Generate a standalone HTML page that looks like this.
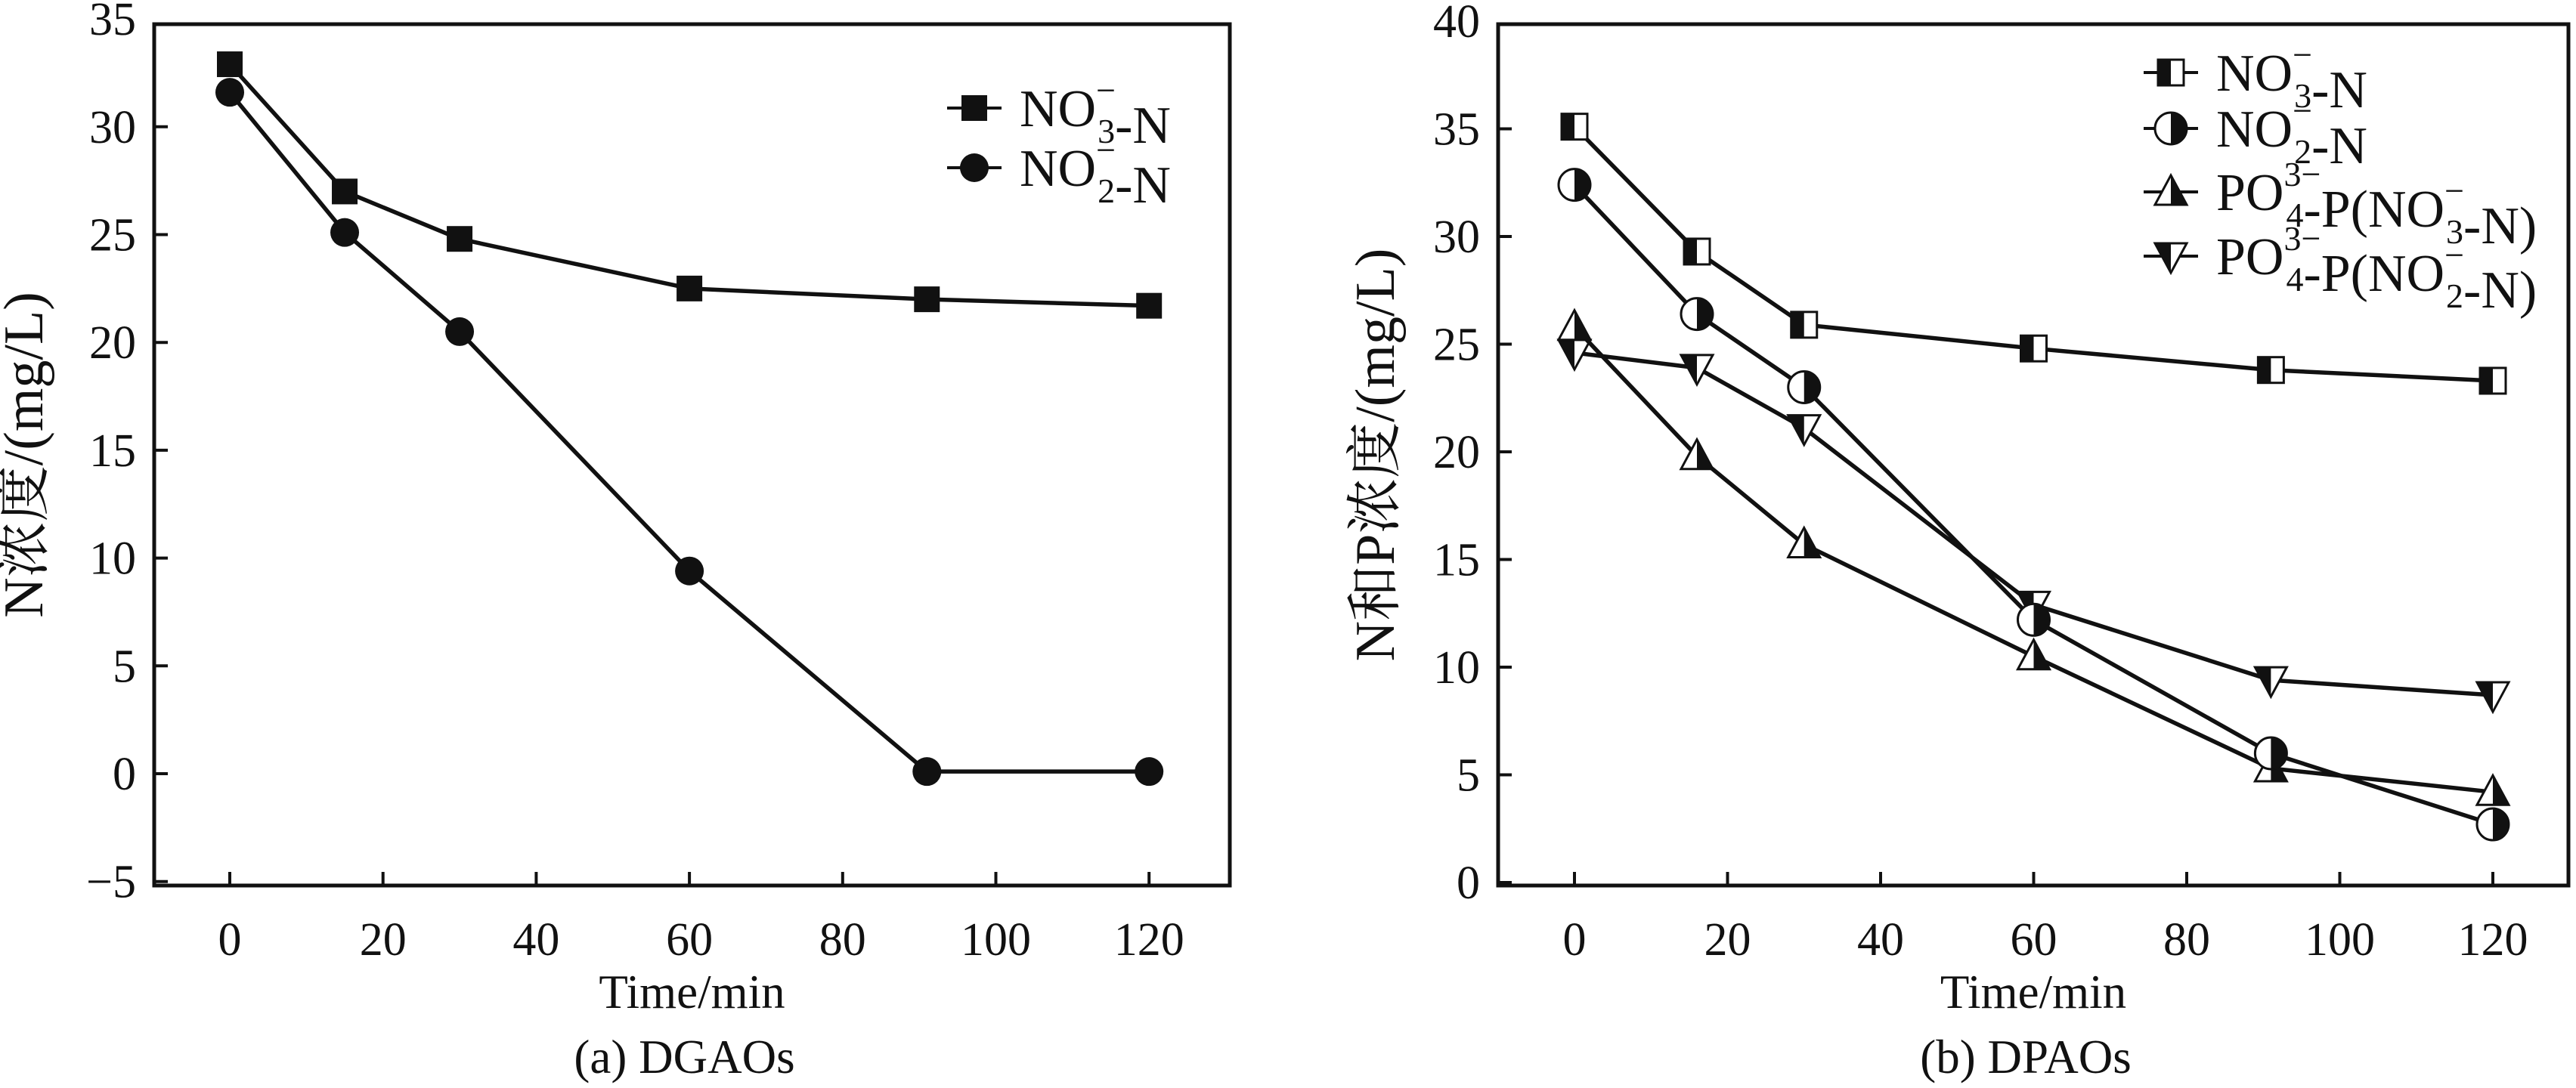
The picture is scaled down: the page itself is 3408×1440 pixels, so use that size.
<!DOCTYPE html>
<html><head><meta charset="utf-8"><style>
html,body{margin:0;padding:0;background:#fff}
svg{display:block}
text{font-family:"Liberation Serif","Noto Serif CJK SC","Noto Sans CJK SC",serif;fill:#111}
</style></head><body>
<svg id="fig" width="3408" height="1440" viewBox="0 0 3408 1440" xmlns="http://www.w3.org/2000/svg"></svg>
<script>
// ---- data ----
const timesA = [0, 15, 30, 60, 91, 120];
const no3A = [32.9, 27.0, 24.8, 22.5, 22.0, 21.7];
const no2A = [31.6, 25.1, 20.5, 9.4, 0.1, 0.1];
const timesB = [0, 16, 30, 60, 91, 120];
const no3B = [35.1, 29.3, 25.9, 24.8, 23.8, 23.3];
const no2B = [32.4, 26.4, 23.0, 12.2, 6.0, 2.7];
const po4no3B = [25.8, 19.8, 15.7, 10.5, 5.3, 4.2];
const po4no2B = [24.6, 23.9, 21.1, 12.9, 9.4, 8.7];
const xTicks = [0, 20, 40, 60, 80, 100, 120];
const yTicksA = [-5, 0, 5, 10, 15, 20, 25, 30, 35];
const yTicksB = [0, 5, 10, 15, 20, 25, 30, 35, 40];

const NS = "http://www.w3.org/2000/svg";
const svg = document.getElementById('fig');
function mk(tag, attrs, parent){
  const e = document.createElementNS(NS, tag);
  for (const k in attrs) e.setAttribute(k, attrs[k]);
  (parent || svg).appendChild(e);
  return e;
}

function panel(cfg){
  const g = mk('g', {});
  
  
  const xs = v => cfg.x0 + v * cfg.xk;
  const ys = v => cfg.y0 - v * cfg.yk;
  const fr = mk('rect', {x: cfg.L, y: cfg.T, width: cfg.R - cfg.L, height: cfg.B - cfg.T, fill: 'none', stroke: '#111', 'stroke-width': 5}, g);
  
  
  xTicks.forEach(t => {
    const x = xs(t);
    const tk = mk('line', {x1: x, x2: x, y1: cfg.B, y2: cfg.B - 18, stroke: '#111', 'stroke-width': 4}, g);
    
    
    const lb = mk('text', {x: x, y: cfg.B + 92, 'font-size': 62, 'text-anchor': 'middle'}, g);
    lb.textContent = t;
    
    
  });
  cfg.yTicks.forEach(t => {
    const y = ys(t);
    if (y > cfg.T + 3 && y < cfg.B - 3) {
      const tk = mk('line', {x1: cfg.L, x2: cfg.L + 18, y1: y, y2: y, stroke: '#111', 'stroke-width': 4}, g);
      
      
    }
    const lb = mk('text', {x: cfg.L - 24, y: y + 21, 'font-size': 62, 'text-anchor': 'end'}, g);
    lb.textContent = t < 0 ? '\u2212' + (-t) : t;
    
    
  });
  const xt = mk('text', {x: (cfg.L + cfg.R) / 2, y: 1334, 'font-size': 63, 'text-anchor': 'middle'}, g);
  xt.textContent = 'Time/min';
  
  
  const cap = mk('text', {x: (cfg.L + cfg.R) / 2 - 10, y: 1420, 'font-size': 63, 'text-anchor': 'middle', 'xml:space': 'preserve'}, g);
  cap.textContent = cfg.caption;
  
  
  const yt = mk('text', {x: 0, y: 0, 'font-size': 74, 'text-anchor': 'middle', transform: `translate(${cfg.ytx},${(cfg.T + cfg.B) / 2}) rotate(-90)`}, g);
  yt.textContent = cfg.ytitle;
  
  
  return {g, xs, ys};
}

function marker(parent, kind, cx, cy){
  const g = mk('g', {}, parent);
  const s = 17;
  if (kind === 'sq') mk('rect', {x: cx - s, y: cy - s, width: 2 * s, height: 2 * s, fill: '#111'}, g);
  else if (kind === 'ci') mk('circle', {cx, cy, r: 19, fill: '#111'}, g);
  else if (kind === 'hsq') {
    mk('rect', {x: cx - s, y: cy - s, width: 2 * s, height: 2 * s, fill: '#fff', stroke: '#111', 'stroke-width': 3}, g);
    mk('rect', {x: cx - s, y: cy - s, width: s, height: 2 * s, fill: '#111'}, g);
  } else if (kind === 'hci') {
    mk('circle', {cx, cy, r: 21, fill: '#fff', stroke: '#111', 'stroke-width': 3}, g);
    mk('path', {d: `M${cx} ${cy - 21} A21 21 0 0 1 ${cx} ${cy + 21} Z`, fill: '#111'}, g);
  } else if (kind === 'htu') {
    mk('path', {d: `M${cx} ${cy - 22} L${cx + 21} ${cy + 17} L${cx - 21} ${cy + 17} Z`, fill: '#fff', stroke: '#111', 'stroke-width': 3}, g);
    mk('path', {d: `M${cx} ${cy - 22} L${cx + 21} ${cy + 17} L${cx} ${cy + 17} Z`, fill: '#111'}, g);
  } else if (kind === 'htd') {
    mk('path', {d: `M${cx} ${cy + 22} L${cx + 21} ${cy - 17} L${cx - 21} ${cy - 17} Z`, fill: '#fff', stroke: '#111', 'stroke-width': 3}, g);
    mk('path', {d: `M${cx} ${cy + 22} L${cx} ${cy - 17} L${cx - 21} ${cy - 17} Z`, fill: '#111'}, g);
  }
  return g;
}

function series(p, name, times, vals, kind){
  const g = mk('g', {}, p.g);
  
  
  const pts = times.map((t, i) => p.xs(t) + ',' + p.ys(vals[i])).join(' ');
  const ln = mk('polyline', {points: pts, fill: 'none', stroke: '#111', 'stroke-width': 5.5}, g);
  
  
  times.forEach((t, i) => {
    const m = marker(g, kind, p.xs(t), p.ys(vals[i]));
    
    
  });
}

function legendEntry(parent, kind, x, y, parts, name){
  const g = mk('g', {}, parent);
  
  
  mk('line', {x1: x - 36, x2: x + 36, y1: y, y2: y, stroke: '#111', 'stroke-width': 4}, g);
  marker(g, kind, x, y);
  const t = mk('text', {x: x + 60, y: y + 24, 'font-size': 70}, g);
  parts.forEach(pt => {
    if (pt.t === 'n') { const s = mk('tspan', {}, t); s.textContent = pt.s; }
    else {
      const a = mk('tspan', {dy: -32, 'font-size': 46}, t); a.textContent = pt.sup;
      const b = mk('tspan', {dx: -pt.w, dy: 54, 'font-size': 46}, t); b.textContent = pt.sub;
      const c = mk('tspan', {dy: -22}, t); c.textContent = '';
    }
  });
}

// Panel A
const pA = panel({name: 'panel-a-dgaos', L: 204, R: 1627, T: 32, B: 1172, x0: 304, xk: 202.7/20, y0: 1024, yk: 142.7/5,
  yTicks: yTicksA, caption: '(a)  DGAOs', ytitle: 'N浓度/(mg/L)', ytx: 56});
series(pA, 'series-no3-n', timesA, no3A, 'sq');
series(pA, 'series-no2-n', timesA, no2A, 'ci');
const legA = mk('g', {});


legendEntry(legA, 'sq', 1289, 143, [{t:'n', s:'NO'}, {sup:'\u2212', sub:'3', w:24}, {t:'n', s:'-N'}], 'legend-entry-no3');
legendEntry(legA, 'ci', 1289, 222, [{t:'n', s:'NO'}, {sup:'\u2212', sub:'2', w:24}, {t:'n', s:'-N'}], 'legend-entry-no2');

// Panel B
const pB = panel({name: 'panel-b-dpaos', L: 1982, R: 3398, T: 32, B: 1172, x0: 2083, xk: 202.5/20, y0: 1168, yk: 142.5/5,
  yTicks: yTicksB, caption: '(b)  DPAOs', ytitle: 'N和P浓度/(mg/L)', ytx: 1844});
series(pB, 'series-po4-no2', timesB, po4no2B, 'htd');
series(pB, 'series-po4-no3', timesB, po4no3B, 'htu');
series(pB, 'series-no2-n', timesB, no2B, 'hci');
series(pB, 'series-no3-n', timesB, no3B, 'hsq');
const legB = mk('g', {});


legendEntry(legB, 'hsq', 2872, 96, [{t:'n', s:'NO'}, {sup:'\u2212', sub:'3', w:24}, {t:'n', s:'-N'}], 'legend-entry-no3');
legendEntry(legB, 'hci', 2872, 170, [{t:'n', s:'NO'}, {sup:'\u2212', sub:'2', w:24}, {t:'n', s:'-N'}], 'legend-entry-no2');
legendEntry(legB, 'htu', 2872, 254, [{t:'n', s:'PO'}, {sup:'3\u2212', sub:'4', w:46}, {t:'n', s:'-P(NO'}, {sup:'\u2212', sub:'3', w:24}, {t:'n', s:'-N)'}], 'legend-entry-po4-no3');
legendEntry(legB, 'htd', 2872, 339, [{t:'n', s:'PO'}, {sup:'3\u2212', sub:'4', w:46}, {t:'n', s:'-P(NO'}, {sup:'\u2212', sub:'2', w:24}, {t:'n', s:'-N)'}], 'legend-entry-po4-no2');
</script>
</body></html>
